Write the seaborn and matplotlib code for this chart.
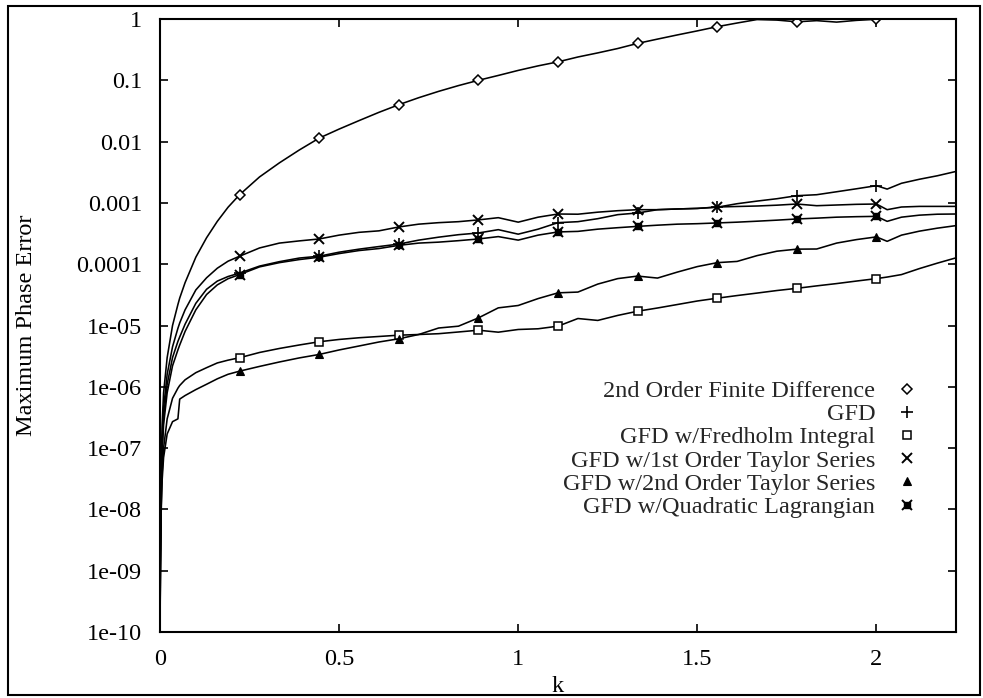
import numpy as np
import pandas as pd
import matplotlib
matplotlib.use("Agg")
import matplotlib.pyplot as plt
import seaborn as sns
from matplotlib.legend_handler import HandlerTuple
from matplotlib.patches import Rectangle
from matplotlib.ticker import NullLocator

# ---------------- data ----------------
k = [0.0002, 0.001, 0.003, 0.006, 0.01, 0.02, 0.035, 0.05, 0.055, 0.07, 0.1, 0.13, 0.16, 0.19,
     0.2222, 0.2778, 0.3333, 0.3889, 0.4444, 0.5, 0.5556, 0.6111, 0.6667, 0.7222, 0.7778,
     0.8333, 0.8889, 0.9444, 1.0, 1.0556, 1.1111, 1.1667, 1.2222, 1.2778, 1.3333, 1.3889,
     1.4444, 1.5, 1.5556, 1.6111, 1.6667, 1.7222, 1.7778, 1.8333, 1.8889, 1.9444, 2.0,
     2.03, 2.07, 2.12, 2.17, 2.2222]

marker_k = [0.2222, 0.4444, 0.6667, 0.8889, 1.1111, 1.3333, 1.5556, 1.7778, 2.0]

err_fd2 = [1.5e-10, 3e-9, 4e-8, 2.5e-7, 8e-7, 3e-6, 1e-5, 2.2e-5, 2.8e-5, 5e-5, 1.3e-4, 2.7e-4, 5e-4, 8.5e-4,
           1.36e-3, 2.65e-3, 4.5e-3, 7.3e-3, 0.0114, 0.016, 0.022, 0.030, 0.040, 0.052, 0.066, 0.082,
           0.100, 0.120, 0.145, 0.172, 0.200, 0.240, 0.280, 0.330, 0.400, 0.470, 0.550, 0.640, 0.750,
           0.860, 0.980, 0.960, 0.900, 0.940, 0.890, 0.950, 0.990, 1.05, 1.1, 1.1, 1.1, 1.1]

err_gfd = [1.2e-10, 1.6e-9, 2e-8, 1.1e-7, 3.2e-7, 1.1e-6, 3e-6, 5.5e-6, 6.5e-6, 1.05e-5, 2.3e-5, 3.9e-5, 5.3e-5, 6.3e-5,
           7.16e-5, 9.31e-5, 1.10e-4, 1.26e-4, 1.35e-4, 1.57e-4, 1.76e-4, 1.94e-4, 2.13e-4, 2.47e-4, 2.76e-4,
           3.03e-4, 3.23e-4, 3.66e-4, 3.09e-4, 3.73e-4, 4.76e-4, 4.94e-4, 5.53e-4, 6.43e-4, 6.85e-4, 7.75e-4,
           7.96e-4, 8.13e-4, 8.51e-4, 9.7e-4, 1.07e-3, 1.17e-3, 1.31e-3, 1.36e-3, 1.52e-3, 1.70e-3, 1.91e-3,
           1.68e-3, 2.09e-3, 2.43e-3, 2.77e-3, 3.26e-3]

err_fredholm = [1.2e-10, 1e-9, 1e-8, 4e-8, 1e-7, 3e-7, 6.5e-7, 9.5e-7, 1.05e-6, 1.3e-6, 1.7e-6, 2.05e-6, 2.45e-6, 2.72e-6,
                2.98e-6, 3.63e-6, 4.22e-6, 4.81e-6, 5.43e-6, 5.92e-6, 6.31e-6, 6.62e-6, 6.95e-6, 7.13e-6, 7.35e-6,
                7.84e-6, 8.38e-6, 7.78e-6, 8.61e-6, 8.84e-6, 9.75e-6, 1.30e-5, 1.21e-5, 1.46e-5, 1.71e-5, 1.93e-5,
                2.20e-5, 2.51e-5, 2.79e-5, 3.08e-5, 3.38e-5, 3.72e-5, 4.04e-5, 4.43e-5, 4.83e-5, 5.31e-5, 5.82e-5,
                6.17e-5, 6.77e-5, 8.48e-5, 1.04e-4, 1.27e-4]

err_taylor1 = [1.3e-10, 2e-9, 2.5e-8, 1.5e-7, 4.5e-7, 1.6e-6, 4.5e-6, 9e-6, 1.1e-5, 1.8e-5, 3.8e-5, 6.0e-5, 8.6e-5, 1.12e-4,
               1.35e-4, 1.84e-4, 2.21e-4, 2.40e-4, 2.58e-4, 2.98e-4, 3.31e-4, 3.50e-4, 4.05e-4, 4.50e-4, 4.76e-4,
               4.94e-4, 5.28e-4, 5.74e-4, 4.85e-4, 5.85e-4, 6.59e-4, 6.54e-4, 7.06e-4, 7.46e-4, 7.75e-4, 7.75e-4,
               7.96e-4, 8.13e-4, 8.57e-4, 8.74e-4, 8.90e-4, 9.18e-4, 9.59e-4, 9.0e-4, 9.24e-4, 9.48e-4, 9.59e-4,
               7.75e-4, 8.57e-4, 8.77e-4, 8.77e-4, 8.77e-4]

err_taylor2 = [1.1e-10, 8e-10, 8e-9, 3e-8, 7e-8, 1.7e-7, 2.7e-7, 3.0e-7, 6.3e-7, 7.2e-7, 9e-7, 1.1e-6, 1.35e-6, 1.6e-6,
               1.80e-6, 2.15e-6, 2.54e-6, 2.96e-6, 3.37e-6, 3.99e-6, 4.63e-6, 5.38e-6, 6.07e-6, 7.13e-6, 9.1e-6,
               9.75e-6, 1.33e-5, 1.94e-5, 2.12e-5, 2.75e-5, 3.41e-5, 3.51e-5, 4.74e-5, 5.82e-5, 6.4e-5, 5.94e-5,
               7.44e-5, 9.14e-5, 1.06e-4, 1.11e-4, 1.38e-4, 1.63e-4, 1.76e-4, 1.77e-4, 2.21e-4, 2.52e-4, 2.79e-4,
               2.36e-4, 2.98e-4, 3.46e-4, 3.87e-4, 4.26e-4]

err_lagrange = [1.1e-10, 1.3e-9, 1.6e-8, 8e-8, 2.4e-7, 8e-7, 2.2e-6, 4e-6, 4.8e-6, 8e-6, 1.8e-5, 3.2e-5, 4.6e-5, 5.8e-5,
                6.77e-5, 9.04e-5, 1.06e-4, 1.19e-4, 1.30e-4, 1.49e-4, 1.67e-4, 1.80e-4, 2.03e-4, 2.21e-4, 2.29e-4,
                2.42e-4, 2.58e-4, 2.82e-4, 2.47e-4, 2.98e-4, 3.36e-4, 3.43e-4, 3.73e-4, 3.94e-4, 4.14e-4, 4.33e-4,
                4.50e-4, 4.58e-4, 4.71e-4, 4.85e-4, 5.03e-4, 5.23e-4, 5.47e-4, 5.64e-4, 5.85e-4, 5.96e-4, 6.03e-4,
                5.0e-4, 5.85e-4, 6.31e-4, 6.54e-4, 6.59e-4]

labels = ["2nd Order Finite Difference", "GFD", "GFD w/Fredholm Integral",
          "GFD w/1st Order Taylor Series", "GFD w/2nd Order Taylor Series",
          "GFD w/Quadratic Lagrangian"]

xtick_vals = [0, 0.5, 1, 1.5, 2]
xtick_labels = ["0", "0.5", "1", "1.5", "2"]
ytick_vals = [1, 0.1, 0.01, 0.001, 1e-4, 1e-5, 1e-6, 1e-7, 1e-8, 1e-9, 1e-10]
ytick_labels = ["1", "0.1", "0.01", "0.001", "0.0001", "1e-05", "1e-06", "1e-07",
                "1e-08", "1e-09", "1e-10"]

# ---------------- figure ----------------
sns.set_theme(style="ticks")
plt.rcParams['font.family'] = ['Liberation Serif', 'DejaVu Serif']
FS = 17.5

W, H = 983, 698
fig = plt.figure(figsize=(W / 100, H / 100), dpi=100)
fig.patch.set_facecolor("white")
ax = fig.add_axes([160 / W, 1 - 632 / H, 796 / W, 613 / H])
ax.set_facecolor("white")

series = [err_fd2, err_gfd, err_fredholm, err_taylor1, err_taylor2, err_lagrange]
df = pd.DataFrame({"k": k})
for lab, vals in zip(labels, series):
    df[lab] = vals
long = df.melt(id_vars="k", var_name="method", value_name="err")

sns.lineplot(data=long, x="k", y="err", units="method", estimator=None,
             color="black", lw=1.15, ax=ax, legend=False, sort=False)

kk = np.array(k)
mask = np.isin(np.round(kk, 4), np.round(marker_k, 4))

styles = [
    dict(marker="D", ms=5.5, mfc="white", mec="black", mew=1.1),
    dict(marker="+", ms=8, mec="black", mew=1.2),
    dict(marker="s", ms=6, mfc="white", mec="black", mew=1.1),
    dict(marker="x", ms=6.5, mec="black", mew=1.4),
    dict(marker="^", ms=6, mfc="black", mec="black", mew=0.8),
]
handles = []
for vals, st in zip(series[:5], styles):
    v = np.array(vals)
    h, = ax.plot(kk[mask], v[mask], ls="none", **st)
    handles.append(h)
vl = np.array(err_lagrange)
h1, = ax.plot(kk[mask], vl[mask], ls="none", marker="s", ms=4.5, mfc="black", mec="black")
h2, = ax.plot(kk[mask], vl[mask], ls="none", marker="x", ms=7, mec="black", mew=1.4)
handles.append((h1, h2))

ax.set_yscale("log")
ax.set_xlim(0, 2.2222)
ax.set_ylim(1e-10, 1)
ax.set_xticks(xtick_vals)
ax.set_xticklabels(xtick_labels)
ax.set_yticks(ytick_vals)
ax.set_yticklabels(ytick_labels)
ax.yaxis.set_minor_locator(NullLocator())
ax.xaxis.set_minor_locator(NullLocator())
ax.tick_params(axis="both", which="major", direction="in", length=6, width=1.2,
               top=True, right=True, labelsize=FS, colors="black")
ax.tick_params(axis="x", pad=12)
ax.tick_params(axis="y", pad=13)
for sp in ax.spines.values():
    sp.set_visible(True)
    sp.set_color("black")
    sp.set_linewidth(1.5)
ax.grid(False)

ax.set_xlabel("k", fontsize=FS, color="black", labelpad=4.5)
ax.set_ylabel("Maximum Phase Error", fontsize=FS, color="black")
ax.yaxis.set_label_coords(-123 / 796, 0.5)

leg = ax.legend(handles, labels, loc="upper right",
                bbox_to_anchor=(919 / W, 1 - 380 / H), bbox_transform=fig.transFigure,
                frameon=False, markerfirst=False, handlelength=1.0, handletextpad=0.8,
                labelspacing=0.05, borderpad=0, borderaxespad=0, fontsize=FS,
                handler_map={tuple: HandlerTuple(ndivide=1)})

fig.patches.append(Rectangle((8 / W, 3 / H), (980 - 8) / W, (692 - 3) / H,
                             transform=fig.transFigure, fill=False,
                             edgecolor="black", lw=1.5))

fig.savefig("out.png", dpi=100)
